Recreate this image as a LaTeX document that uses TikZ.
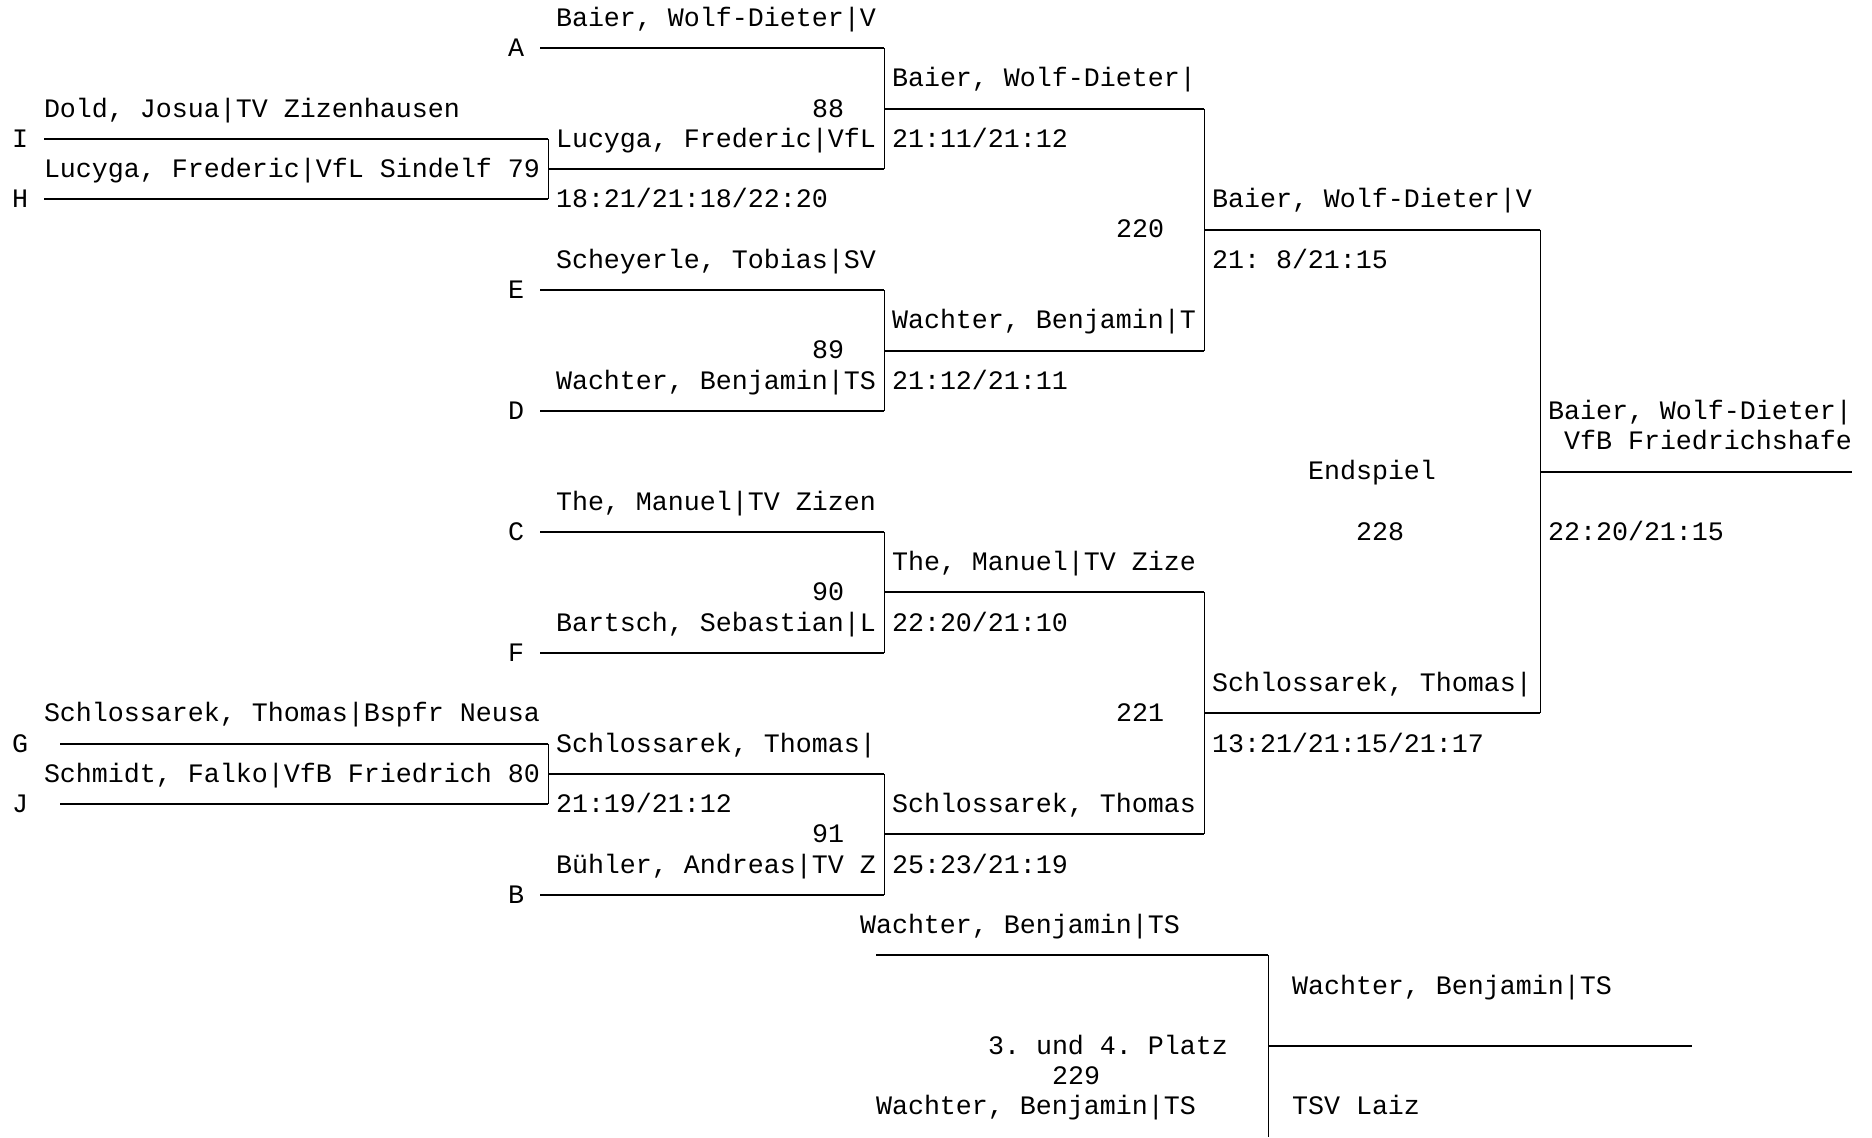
\documentclass[tikz,border=0pt]{standalone}
\usepackage{fontspec}
\setmonofont{Liberation Mono}
\tikzset{
  txt/.style={anchor=base west,inner sep=0pt,outer sep=0pt,font=\ttfamily\fontsize{13.33pt}{15pt}\selectfont},
  hbar/.style={line width=1pt},
  vbar/.style={line width=0.5pt}
}
\begin{document}
\begin{tikzpicture}[x=8pt,y=-15.12pt]
\useasboundingbox (-0.75,-0.592) rectangle (116.25,37.008);

\coordinate (cIPt) at (2,4);
\coordinate (cHPt) at (2,6);
\coordinate (cGPt) at (3,24);
\coordinate (cJPt) at (3,26);
\coordinate (cAPt) at (33,1);
\coordinate (cEPt) at (33,9);
\coordinate (cDPt) at (33,13);
\coordinate (cCPt) at (33,17);
\coordinate (cFPt) at (33,21);
\coordinate (cBPt) at (33,29);

% Spiele 79 und 80
\coordinate (c79aPt) at (33.5,4);
\coordinate (c79bPt) at (33.5,6);
\coordinate (c79Pt) at (33.5,5);
\coordinate (c80aPt) at (33.5,24);
\coordinate (c80bPt) at (33.5,26);
\coordinate (c80Pt) at (33.5,25);
% Spiele 88 bis 91
\coordinate (c88aPt) at (54.5,1);
\coordinate (c88bPt) at (54.5,5);
\coordinate (c88Pt) at (54.5,3);
\coordinate (c89aPt) at (54.5,9);
\coordinate (c89bPt) at (54.5,13);
\coordinate (c89Pt) at (54.5,11);
\coordinate (c90aPt) at (54.5,17);
\coordinate (c90bPt) at (54.5,21);
\coordinate (c90Pt) at (54.5,19);
\coordinate (c91aPt) at (54.5,25);
\coordinate (c91bPt) at (54.5,29);
\coordinate (c91Pt) at (54.5,27);
% Halbfinale
\coordinate (c220aPt) at (74.5,3);
\coordinate (c220bPt) at (74.5,11);
\coordinate (c220Pt) at (74.5,7);
\coordinate (c221aPt) at (74.5,19);
\coordinate (c221bPt) at (74.5,27);
\coordinate (c221Pt) at (74.5,23);
% Endspiel
\coordinate (c228aPt) at (95.5,7);
\coordinate (c228bPt) at (95.5,23);
\coordinate (c228Pt) at (95.5,15);
\coordinate (cSiegerPt) at (115,15);
% Platz 3
\coordinate (c229sPt) at (54,31);
\coordinate (c229aPt) at (78.5,31);
\coordinate (c229bPt) at (78.5,37.008);
\coordinate (c229Pt) at (78.5,34);
\coordinate (cDrittPt) at (105,34);

\draw[hbar] (cIPt) -- (c79aPt);
\draw[hbar] (cHPt) -- (c79bPt);
\draw[vbar] (c79aPt) -- (c79bPt);
\draw[hbar] (c79Pt) -- (c88bPt);
\draw[hbar] (cGPt) -- (c80aPt);
\draw[hbar] (cJPt) -- (c80bPt);
\draw[vbar] (c80aPt) -- (c80bPt);
\draw[hbar] (c80Pt) -- (c91aPt);

\draw[hbar] (cAPt) -- (c88aPt);
\draw[vbar] (c88aPt) -- (c88bPt);
\draw[hbar] (c88Pt) -- (c220aPt);
\draw[hbar] (cEPt) -- (c89aPt);
\draw[hbar] (cDPt) -- (c89bPt);
\draw[vbar] (c89aPt) -- (c89bPt);
\draw[hbar] (c89Pt) -- (c220bPt);
\draw[hbar] (cCPt) -- (c90aPt);
\draw[hbar] (cFPt) -- (c90bPt);
\draw[vbar] (c90aPt) -- (c90bPt);
\draw[hbar] (c90Pt) -- (c221aPt);
\draw[hbar] (cBPt) -- (c91bPt);
\draw[vbar] (c91aPt) -- (c91bPt);
\draw[hbar] (c91Pt) -- (c221bPt);

\draw[vbar] (c220aPt) -- (c220bPt);
\draw[hbar] (c220Pt) -- (c228aPt);
\draw[vbar] (c221aPt) -- (c221bPt);
\draw[hbar] (c221Pt) -- (c228bPt);
\draw[vbar] (c228aPt) -- (c228bPt);
\draw[hbar] (c228Pt) -- (cSiegerPt);

\draw[hbar] (c229sPt) -- (c229aPt);
\draw[vbar] (c229aPt) -- (c229bPt);
\draw[hbar] (c229Pt) -- (cDrittPt);

\begin{scope}[yshift=-4.2pt]
\node[txt] (lA) at (31,1) {A};
\node[txt] (lI) at (0,4) {I};
\node[txt] (lH) at (0,6) {H};
\node[txt] (lE) at (31,9) {E};
\node[txt] (lD) at (31,13) {D};
\node[txt] (lC) at (31,17) {C};
\node[txt] (lF) at (31,21) {F};
\node[txt] (lG) at (0,24) {G};
\node[txt] (lJ) at (0,26) {J};
\node[txt] (lB) at (31,29) {B};

\node[txt] (pI) at (2,3) {Dold, Josua|TV Zizenhausen};
\node[txt] (pH) at (2,5) {Lucyga, Frederic|VfL Sindelf 79};
\node[txt] (s79) at (34,6) {18:21/21:18/22:20};
\node[txt] (pG) at (2,23) {Schlossarek, Thomas|Bspfr Neusa};
\node[txt] (pJ) at (2,25) {Schmidt, Falko|VfB Friedrich 80};
\node[txt] (s80) at (34,26) {21:19/21:12};

\node[txt] (pA) at (34,0) {Baier, Wolf-Dieter|V};
\node[txt] (p79) at (34,4) {Lucyga, Frederic|VfL};
\node[txt] (m88) at (50,3) {88};
\node[txt] (pE) at (34,8) {Scheyerle, Tobias|SV};
\node[txt] (m89) at (50,11) {89};
\node[txt] (pD) at (34,12) {Wachter, Benjamin|TS};
\node[txt] (pC) at (34,16) {The, Manuel|TV Zizen};
\node[txt] (m90) at (50,19) {90};
\node[txt] (pF) at (34,20) {Bartsch, Sebastian|L};
\node[txt] (p80) at (34,24) {Schlossarek, Thomas|};
\node[txt] (m91) at (50,27) {91};
\node[txt] (pB) at (34,28) {Bühler, Andreas|TV Z};

\node[txt] (w88) at (55,2) {Baier, Wolf-Dieter|};
\node[txt] (s88) at (55,4) {21:11/21:12};
\node[txt] (w89) at (55,10) {Wachter, Benjamin|T};
\node[txt] (s89) at (55,12) {21:12/21:11};
\node[txt] (w90) at (55,18) {The, Manuel|TV Zize};
\node[txt] (s90) at (55,20) {22:20/21:10};
\node[txt] (w91) at (55,26) {Schlossarek, Thomas};
\node[txt] (s91) at (55,28) {25:23/21:19};

\node[txt] (m220) at (69,7) {220};
\node[txt] (w220) at (75,6) {Baier, Wolf-Dieter|V};
\node[txt] (s220) at (75,8) {21: 8/21:15};
\node[txt] (m221) at (69,23) {221};
\node[txt] (w221) at (75,22) {Schlossarek, Thomas|};
\node[txt] (s221) at (75,24) {13:21/21:15/21:17};

\node[txt] (tEnd) at (81,15) {Endspiel};
\node[txt] (m228) at (84,17) {228};
\node[txt] (w228) at (96,13) {Baier, Wolf-Dieter|};
\node[txt] (v228) at (97,14) {VfB Friedrichshafe};
\node[txt] (s228) at (96,17) {22:20/21:15};

\node[txt] (q229a) at (53,30) {Wachter, Benjamin|TS};
\node[txt] (w229) at (80,32) {Wachter, Benjamin|TS};
\node[txt] (tPlatz) at (61,34) {3. und 4. Platz};
\node[txt] (m229) at (65,35) {229};
\node[txt] (q229b) at (54,36) {Wachter, Benjamin|TS};
\node[txt] (v229) at (80,36) {TSV Laiz};
\end{scope}
\end{tikzpicture}
\end{document}
